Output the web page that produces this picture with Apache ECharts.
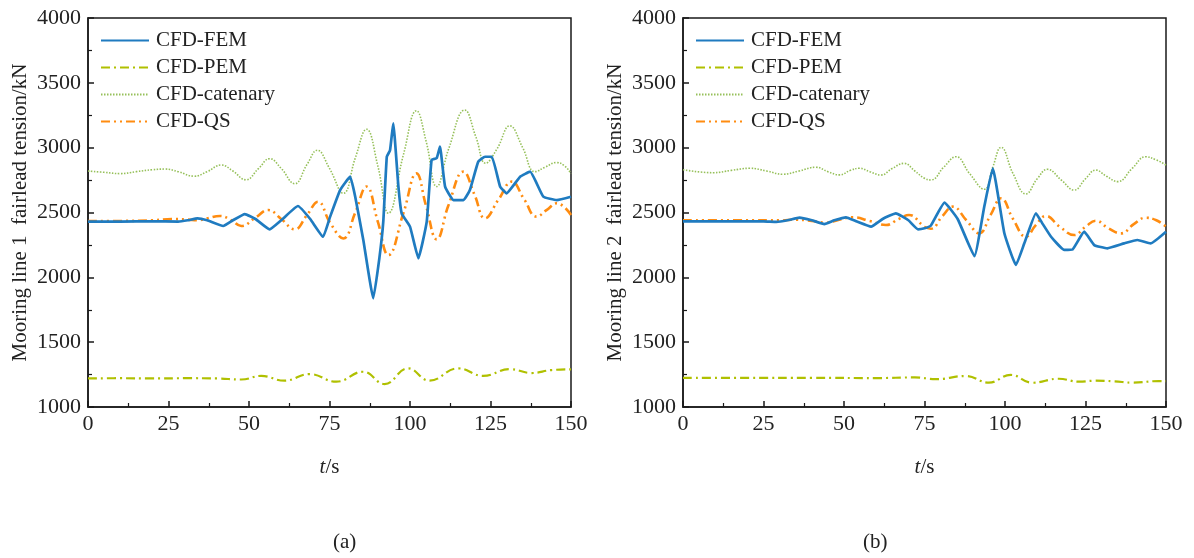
<!DOCTYPE html>
<html>
<head>
<meta charset="utf-8">
<script src="https://cdn.jsdelivr.net/npm/echarts@6/dist/echarts.min.js"></script>
<style>
  html, body { margin: 0; padding: 0; background: #fff; }
  #chart { width: 1194px; height: 558px; }
</style>
</head>
<body>
<div id="chart"></div>
<script>
// Series names and panel labels
const seriesNames = ['CFD-FEM', 'CFD-PEM', 'CFD-catenary', 'CFD-QS'];
const panelLabels = ['(a)', '(b)'];
const yTitles = ['Mooring line 1  fairlead tension/kN', 'Mooring line 2  fairlead tension/kN'];

// Axis ranges / ticks
const xTicks = [0, 25, 50, 75, 100, 125, 150];
const yTicks = [1000, 1500, 2000, 2500, 3000, 3500, 4000];

// Mooring line 1: [time s, tension kN]
const fem1 = [[0,2430],[10,2430],[20,2432],[28,2430],[31,2440],[34,2455],[37,2440],[42,2396],[45,2440],[48.7,2488],[52,2450],[56.4,2370],[60,2440],[65.2,2550],[69,2450],[73,2313],[75.2,2468],[78.3,2673],[81.4,2776],[83,2620],[85.5,2288],[88.6,1838],[90.5,2150],[91.7,2429],[92.8,2930],[93.8,2980],[94.8,3188],[96.4,2699],[97.4,2494],[100,2391],[102.6,2147],[105.2,2430],[106.7,2905],[108.3,2920],[109.3,3008],[110.9,2699],[113.5,2596],[116.6,2596],[118.6,2673],[121.2,2892],[123.3,2930],[125.4,2930],[128,2699],[130,2648],[134.2,2776],[137.3,2815],[141.4,2622],[145.6,2596],[150,2622]];
const pem1 = [[0,1220],[10,1222],[20,1220],[30,1222],[40,1220],[47.6,1212],[53.8,1240],[61,1203],[68.8,1254],[77.1,1195],[85.4,1272],[92.1,1177],[99.4,1298],[106.1,1203],[114.9,1298],[122.7,1240],[131,1292],[137.7,1262],[144,1285],[150,1290]];
const cat1 = [[0,2820],[5,2810],[10,2800],[15,2815],[20,2830],[24,2835],[28,2815],[33,2780],[37,2815],[41.4,2866],[45,2820],[49,2752],[53,2840],[56.4,2915],[60,2840],[64.2,2722],[68,2870],[71.2,2980],[75,2840],[79.3,2648],[83,2920],[86.5,3142],[90,2860],[93.3,2495],[98,2950],[102,3285],[105,3050],[108.3,2700],[112,2990],[117,3290],[120.5,3080],[123.5,2880],[127,2990],[131,3168],[135,3000],[138.8,2815],[142,2850],[145.5,2885],[148,2860],[150,2800]];
const qs1 = [[0,2435],[10,2435],[20,2440],[26,2450],[31,2445],[34,2440],[37,2455],[41,2473],[44.5,2440],[47.6,2396],[52,2460],[56,2519],[60,2450],[64.2,2370],[68,2480],[71.4,2583],[75.2,2420],[79.3,2300],[83,2500],[86.5,2700],[90,2430],[93.3,2172],[98,2500],[102,2802],[105,2550],[108.3,2293],[112,2560],[116.6,2815],[120,2640],[123.3,2455],[127.5,2600],[131.6,2738],[135.5,2600],[139.3,2468],[142.5,2520],[145.6,2571],[150,2481]];

// Mooring line 2: [time s, tension kN]
const fem2 = [[0,2432],[15,2432],[25,2432],[29,2428],[32.5,2440],[36.2,2460],[40,2440],[43.9,2411],[47,2440],[50.6,2463],[54,2430],[58.4,2391],[62,2450],[66.1,2494],[70,2440],[73,2370],[75,2378],[77,2400],[81.2,2576],[85.3,2450],[90.5,2164],[93.6,2550],[96.2,2841],[99.8,2340],[103.4,2095],[106,2262],[109.6,2494],[111.5,2420],[114.3,2313],[118.4,2211],[121,2215],[124.6,2352],[127.7,2249],[131.8,2224],[137,2262],[141.1,2288],[145.2,2262],[150,2352]];
const pem2 = [[0,1225],[20,1225],[40,1225],[60,1223],[72,1228],[78.5,1215],[87.8,1239],[95,1188],[101.8,1247],[108.5,1187],[116.7,1218],[123,1195],[128,1203],[134,1198],[139.5,1188],[147.7,1200],[150,1200]];
const cat2 = [[0,2830],[9.3,2807],[15,2825],[20.7,2841],[26,2820],[31,2795],[36,2820],[41.3,2849],[45,2815],[48.6,2790],[52,2825],[54.8,2841],[58,2815],[61.5,2789],[65,2840],[68.7,2879],[72,2820],[75,2764],[77,2751],[81,2850],[84.8,2930],[89,2800],[93.6,2679],[96.2,2850],[98.8,3003],[102.5,2800],[106.5,2643],[110,2760],[113.2,2833],[117.5,2750],[121.5,2673],[125,2760],[128.2,2827],[131.5,2780],[135,2738],[139.5,2840],[143.7,2930],[147,2905],[150,2866]];
const qs2 = [[0,2440],[20,2440],[30,2440],[35,2445],[40,2435],[44.4,2421],[48.5,2445],[52.7,2463],[58,2435],[63,2404],[67,2450],[70.2,2481],[75,2390],[77,2375],[80.5,2470],[83.8,2545],[88,2440],[92,2339],[95.5,2480],[98.8,2610],[102.5,2450],[106.5,2313],[109.5,2400],[112.7,2473],[117,2390],[121.5,2326],[125,2390],[128.2,2437],[132,2380],[136,2339],[140,2410],[143.7,2460],[147,2440],[150,2391]];

const panels = [
  { fem: fem1, pem: pem1, cat: cat1, qs: qs1 },
  { fem: fem2, pem: pem2, cat: cat2, qs: qs2 }
];

const FONT = '"Liberation Serif", "Times New Roman", serif';
const colors = { fem: '#1f7bc0', pem: '#b0c000', cat: '#96c05a', qs: '#ff8c10' };
const gridLefts = [88, 683];

const grids = gridLefts.map(l => ({
  left: l, top: 18, width: 483, height: 389,
  show: true, borderColor: '#1a1a1a', borderWidth: 1.5, backgroundColor: 'transparent'
}));

const tickStyle = {
  axisLine: { lineStyle: { color: '#1a1a1a', width: 1.5 } },
  axisTick: { inside: true, length: 6, lineStyle: { color: '#1a1a1a', width: 1.5 } },
  minorTick: { show: true, splitNumber: 2, length: 4, lineStyle: { color: '#1a1a1a', width: 1.2 } },
  splitLine: { show: false }
};

const xAxes = gridLefts.map((_, i) => Object.assign({
  type: 'value', gridIndex: i,
  min: xTicks[0], max: xTicks[xTicks.length - 1], interval: 25,
  name: '{it|t}/s', nameLocation: 'middle', nameGap: 50,
  nameTextStyle: { fontFamily: FONT, fontSize: 21, color: '#222',
    rich: { it: { fontFamily: FONT, fontSize: 21, fontStyle: 'italic', color: '#222' } } },
  axisLabel: { fontFamily: FONT, fontSize: 22, color: '#222', margin: 6,
    formatter: v => String(v) }
}, tickStyle));

const yAxes = gridLefts.map((_, i) => Object.assign({
  type: 'value', gridIndex: i,
  min: yTicks[0], max: yTicks[yTicks.length - 1], interval: 500,
  name: yTitles[i], nameLocation: 'middle', nameGap: 57,
  nameTextStyle: { fontFamily: FONT, fontSize: 21, color: '#222' },
  axisLabel: { fontFamily: FONT, fontSize: 22, color: '#222', margin: 7,
    formatter: v => String(v) }
}, tickStyle));

const styles = [
  { key: 'fem', width: 2.7, type: 'solid' },
  { key: 'pem', width: 2.2, type: [9, 4, 2, 4] },
  { key: 'cat', width: 1.6, type: [1.5, 1.5] },
  { key: 'qs',  width: 2.6, type: [9, 4, 2, 4, 2, 4] }
];

const series = [];
panels.forEach((p, i) => {
  styles.forEach((s, k) => {
    series.push({
      name: seriesNames[k], type: 'line',
      xAxisIndex: i, yAxisIndex: i,
      data: p[s.key], symbol: 'none',
      smooth: s.key === 'fem' ? 0.12 : 0.45,
      lineStyle: { color: colors[s.key], width: s.width, type: s.type },
      itemStyle: { color: colors[s.key] },
      z: s.key === 'fem' ? 4 : 3,
      animation: false
    });
  });
});

const legends = gridLefts.map(l => ({
  orient: 'vertical', left: l + 7, top: 25,
  itemWidth: 48, itemHeight: 14, itemGap: 6,
  data: seriesNames,
  itemStyle: { opacity: 0 },
  textStyle: { fontFamily: FONT, fontSize: 21, color: '#222', padding: [0, 0, 0, 2] },
  selectedMode: false
}));

const chart = echarts.init(document.getElementById('chart'), null, { renderer: 'canvas' });
chart.setOption({
  backgroundColor: '#fff',
  animation: false,
  grid: grids,
  xAxis: xAxes,
  yAxis: yAxes,
  legend: legends,
  series: series,
  graphic: panelLabels.map((t, i) => ({
    type: 'text', left: [333, 863][i], top: 532,
    style: { text: t, fontFamily: FONT, fontSize: 21, fill: '#222' }
  }))
});
</script>
</body>
</html>
